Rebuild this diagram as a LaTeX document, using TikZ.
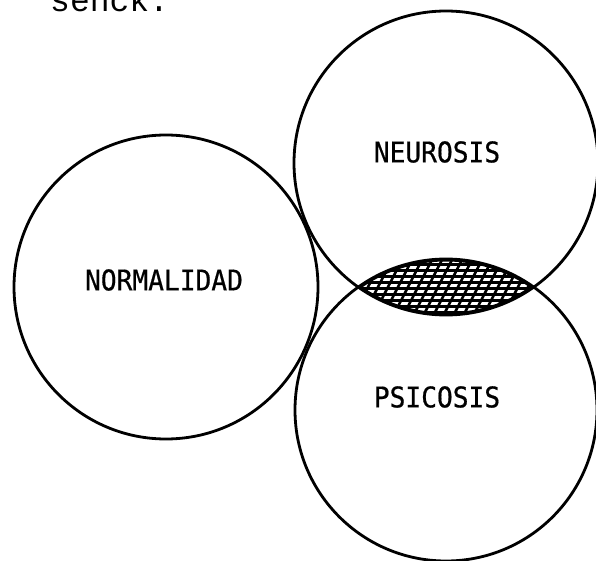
\documentclass[tikz,border=0pt]{standalone}
\usepackage{fontspec}
\newfontfamily\labelfont[FakeStretch=0.92,FakeBold=0.6]{DejaVu Sans Mono}
\newfontfamily\typefont{Liberation Mono}
\usetikzlibrary{positioning,calc}

\begin{document}
\begin{tikzpicture}[x=1pt, y=-1pt,
  region/.style={draw=black, line width=2.8pt, circle, inner sep=0pt},
  tag/.style={font=\labelfont\fontsize{28.5}{30}\selectfont, inner sep=0pt}]
  \useasboundingbox (0,0) rectangle (596,561);
  % line of text cut off by the page top
  \node[font=\typefont\fontsize{33}{36}\selectfont, anchor=base west, inner sep=0pt] (head) at (50,11.5) {senck.};

  % three circles
  \node[region, minimum size=304pt] (norm) at (166,287) {};
  \node[region, minimum size=304pt] (neur) at (446,163) {};
  \node[region, minimum size=302pt] (psic) at (446,410) {};

  % hatched overlap of neurosis and psicosis
  \begin{scope}
    \clip (neur.center) circle[radius=152pt];
    \clip (psic.center) circle[radius=151pt];
    \foreach \y in {258,264,...,318}
      \draw[line width=3pt] (350,\y) -- (545,\y);
    \foreach \x in {320,330,...,560}
      \draw[line width=2.6pt] (\x,322) -- (\x+36,252);
    \draw[line width=5pt] (neur.center) circle[radius=152pt];
    \draw[line width=5pt] (psic.center) circle[radius=151pt];
  \end{scope}

  \node[tag] (normlbl) at (164,280) {NORMALIDAD};
  \node[tag] (neurlbl) at (437,152) {NEUROSIS};
  \node[tag] (psiclbl) at (437,397) {PSICOSIS};
\end{tikzpicture}
\end{document}
